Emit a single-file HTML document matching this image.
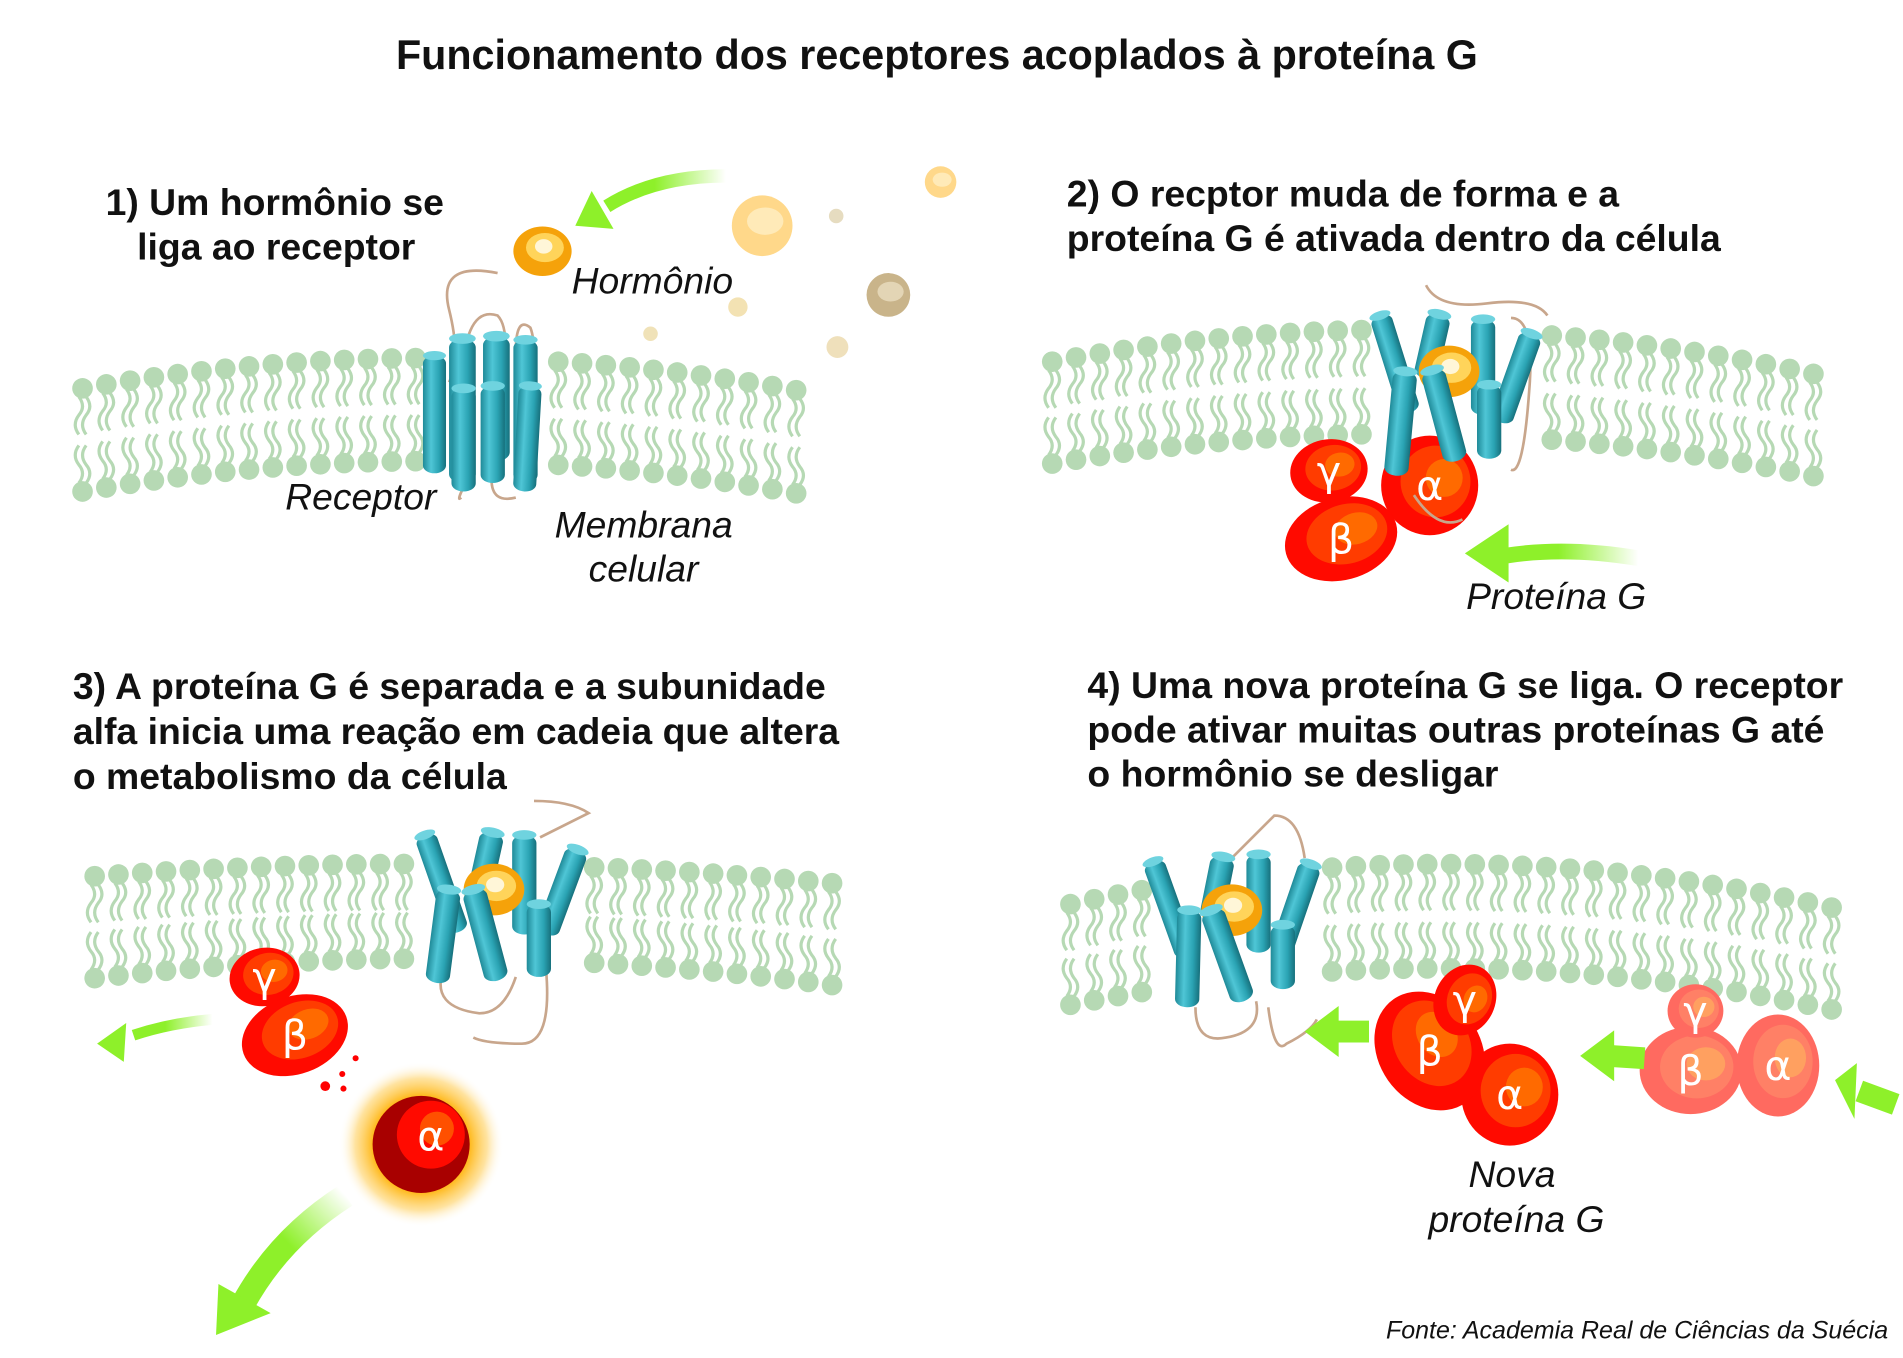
<!DOCTYPE html>
<html><head><meta charset="utf-8">
<style>
html,body{margin:0;padding:0;background:#fff;}
svg{display:block;}
.h{font-family:"Liberation Sans",sans-serif;font-weight:bold;font-size:30.8px;fill:#111;}
.l{font-family:"Liberation Sans",sans-serif;font-style:italic;font-size:30.7px;fill:#111;}
.g{font-family:"DejaVu Sans","Liberation Sans",sans-serif;font-size:34px;fill:#fff;text-anchor:middle;}
</style></head>
<body>
<svg id="s" width="1903" height="1358" viewBox="0 0 1568 1119" preserveAspectRatio="none" xmlns="http://www.w3.org/2000/svg">
<defs>
<linearGradient id="cg" x1="0" x2="1" y1="0" y2="0">
<stop offset="0" stop-color="#1f8a98"/><stop offset="0.35" stop-color="#4fc6d6"/><stop offset="0.7" stop-color="#2aa3b3"/><stop offset="1" stop-color="#17707c"/>
</linearGradient>
<radialGradient id="glow"><stop offset="0.55" stop-color="#ffb000"/><stop offset="0.8" stop-color="#ffd060" stop-opacity="0.6"/><stop offset="1" stop-color="#fff" stop-opacity="0"/></radialGradient>
<linearGradient id="ag1" x1="1" x2="0" y1="0" y2="0"><stop offset="0" stop-color="#8ef02a" stop-opacity="0"/><stop offset="0.6" stop-color="#8ef02a"/></linearGradient>
</defs>
<g id="mem"></g>
<g id="fig"></g>
<text x="772" y="57" text-anchor="middle" style="font-family:'Liberation Sans',sans-serif;font-weight:bold;font-size:34px;fill:#111">Funcionamento dos receptores acoplados à proteína G</text>
<text class="h" x="87" y="177">1) Um hormônio se</text>
<text class="h" x="113" y="214">liga ao receptor</text>
<text class="h" x="879" y="170">2) O recptor muda de forma e a</text>
<text class="h" x="879" y="207">proteína G é ativada dentro da célula</text>
<text class="h" x="60" y="576">3) A proteína G é separada e a subunidade</text>
<text class="h" x="60" y="613">alfa inicia uma reação em cadeia que altera</text>
<text class="h" x="60" y="650">o metabolismo da célula</text>
<text class="h" x="896" y="575">4) Uma nova proteína G se liga. O receptor</text>
<text class="h" x="896" y="612">pode ativar muitas outras proteínas G até</text>
<text class="h" x="896" y="648">o hormônio se desligar</text>
<text class="l" x="471" y="242">Hormônio</text>
<text class="l" x="235" y="420">Receptor</text>
<text class="l" x="457" y="443">Membrana</text>
<text class="l" x="485" y="479">celular</text>
<text class="l" x="1208" y="502">Proteína G</text>
<text class="l" x="1210" y="978">Nova</text>
<text class="l" x="1177" y="1015">proteína G</text>
<text x="1142" y="1103" style="font-family:'Liberation Sans',sans-serif;font-style:italic;font-size:20.6px;fill:#111">Fonte: Academia Real de Ciências da Suécia</text>
</svg>
<script>
var NS="http://www.w3.org/2000/svg";
var mem=document.getElementById('mem'),fig=document.getElementById('fig');
function el(t,a,p){var e=document.createElementNS(NS,t);for(var k in a)e.setAttribute(k,a[k]);(p||fig).appendChild(e);return e;}
function q(a,b,c,t){return a*(1-t)*(1-2*t)+b*4*t*(1-t)+c*t*(2*t-1);}
function membrane(x0,x1,tl,tm,tr,bl,bm,br,ga,gb){
 var step=19.6;
 for(var x=x0;x<=x1+0.1;x+=step){
  if(x>ga&&x<gb)continue;
  var t=(x-x0)/(x1-x0);
  var yt=q(tl,tm,tr,t),yb=q(bl,bm,br,t);
  var c="#b6d9b4";
  [[-3],[3]].forEach(function(o){
   var dx=o[0];
   el('path',{d:'M'+(x+dx)+' '+(yt+7)+' q6 8 0 15 q-6 8 0 16',fill:'none',stroke:c,'stroke-width':2.6},mem);
   el('path',{d:'M'+(x+dx)+' '+(yb-7)+' q6 -8 0 -15 q-6 -8 0 -16',fill:'none',stroke:c,'stroke-width':2.6},mem);
  });
  el('circle',{cx:x,cy:yt,r:8.5,fill:c},mem);
  el('circle',{cx:x,cy:yb,r:8.5,fill:c},mem);
 }
}
membrane(68,675,320,295,325,405,380,410,345,450);
membrane(867,1512,298,272,312,382,358,396,1125,1275);
membrane(78,688,722,712,728,806,790,812,335,482);
membrane(882,1510,745,712,748,828,798,832,942,1090);

function cyl(x1,y1,x2,y2,w){
 var dx=x2-x1,dy=y2-y1,L=Math.sqrt(dx*dx+dy*dy),a=Math.atan2(dy,dx)*180/Math.PI-90;
 var g=el('g',{transform:'translate('+x1+' '+y1+') rotate('+a+')'});
 el('rect',{x:-w/2,y:0,width:w,height:L,rx:w/2,ry:w/3,fill:'url(#cg)'},g);
 el('ellipse',{cx:0,cy:0,rx:w/2,ry:w/5,fill:'#6fd3df'},g);
}
function loop(d){el('path',{d:d,fill:'none',stroke:'#c8a68c','stroke-width':2.2});}
function hormone(x,y,r){el('ellipse',{cx:x,cy:y,rx:r,ry:r*0.85,fill:'#f5a20a'});el('ellipse',{cx:x+2,cy:y-3,rx:r*0.65,ry:r*0.5,fill:'#ffd45a'});el('ellipse',{cx:x+1,cy:y-4,rx:r*0.3,ry:r*0.25,fill:'#fff6d8'});}
function ball(x,y,r,c1,c2){el('circle',{cx:x,cy:y,r:r,fill:c1});el('ellipse',{cx:x+r*0.1,cy:y-r*0.15,rx:r*0.6,ry:r*0.45,fill:c2});}

// panel 1
loop('M410 225 q-50 -10 -40 30 q10 40 0 60');
loop('M380 330 q0 -80 30 -70 q10 10 5 50');
loop('M425 290 q0 -30 12 -20 q8 20 -3 100');
loop('M385 395 q-10 20 -5 15');loop('M405 395 q0 20 20 15');
cyl(433,280,433,398,20);
cyl(358,293,358,390,19);
cyl(381,279,381,398,22);
cyl(409,277,409,380,22);
cyl(382,320,382,405,20);
cyl(406,318,406,398,20);
cyl(437,318,432,405,19);
hormone(447,207,24);
ball(628,186,25,'#ffd88a','#ffeab8');
ball(775,150,13,'#ffd88a','#ffeab8');
ball(732,243,18,'#c9b48a','#e3d5b5');
el('circle',{cx:689,cy:178,r:6,fill:'#e6dcc0'});
el('circle',{cx:608,cy:253,r:8,fill:'#f3e2b3'});
el('circle',{cx:536,cy:275,r:6,fill:'#f0e2b8'});
el('circle',{cx:690,cy:286,r:9,fill:'#efe0bb'});

el('path',{d:'M598 145 Q540 145 500 170',fill:'none',stroke:'url(#ag1)','stroke-width':11});
var g=el('g',{transform:'translate(474 186) rotate(-30)'});el('polygon',{points:'0,0 26,-18 26,18',fill:'#8ef02a'},g);

// panel 2
loop('M1175 235 q10 20 50 15 q40 -5 50 10');
loop('M1245 262 q20 0 15 60 q-5 70 -15 65');
function sub(cx,cy,rx,ry,rot,ch,fade){
 var c=fade?['#ff6a60','#ff8066','#ffa060']:['#ff0a00','#ff3c00','#ff6a00'];
 var g=el('g',{transform:'translate('+cx+' '+cy+') rotate('+rot+')'});
 el('ellipse',{cx:0,cy:0,rx:rx,ry:ry,fill:c[0]},g);
 el('ellipse',{cx:rx*0.12,cy:-ry*0.08,rx:rx*0.72,ry:ry*0.72,fill:c[1]},g);
 el('ellipse',{cx:rx*0.3,cy:-ry*0.15,rx:rx*0.38,ry:ry*0.38,fill:c[2]},g);
 var t=el('text',{x:cx,y:cy+12,'class':'g','font-size':Math.min(rx,ry)*0.95});t.textContent=ch;
}
sub(1178,400,40,41,0,'α');
sub(1095,388,32,26,-8,'γ');
sub(1105,444,47,34,-15,'β');
cyl(1137,260,1162,340,18);
cyl(1186,259,1174,312,20);
cyl(1222,263,1222,342,20);
cyl(1262,275,1236,348,19);
hormone(1194,306,25);
cyl(1158,306,1150,392,20);
cyl(1180,305,1200,380,20);
cyl(1227,317,1227,378,20);
loop('M1165 408 q20 30 40 20');
el('path',{d:'M1350 460 Q1290 450 1240 458',fill:'none',stroke:'url(#ag1)','stroke-width':13});
g=el('g',{transform:'translate(1207 456) rotate(0)'});el('polygon',{points:'0,0 36,-24 36,24',fill:'#8ef02a'},g);

// panel 3
loop('M440 660 q30 0 45 10 q-20 10 -40 20');
loop('M365 800 q-10 30 30 35 q20 0 30 -30');
loop('M450 800 q5 60 -20 60 q-30 0 -40 -5');
cyl(350,688,378,768,18);
cyl(406,686,394,740,20);
cyl(432,688,432,770,20);
cyl(476,700,450,770,19);
hormone(407,733,25);
cyl(370,733,360,810,20);
cyl(390,733,410,808,20);
cyl(444,745,444,805,20);
sub(218,805,29,24,-10,'γ');
sub(243,853,45,32,-20,'β');
el('circle',{cx:268,cy:895,r:4,fill:'#f00'});el('circle',{cx:282,cy:885,r:2.5,fill:'#f00'});el('circle',{cx:283,cy:897,r:2.5,fill:'#f00'});el('circle',{cx:293,cy:872,r:2.5,fill:'#f00'});
el('circle',{cx:347,cy:943,r:68,fill:'url(#glow)'});
el('circle',{cx:347,cy:943,r:40,fill:'#a80000'});
el('circle',{cx:355,cy:935,r:28,fill:'#ff0a00'});
el('circle',{cx:360,cy:930,r:14,fill:'#ff5000'});
var t=el('text',{x:355,y:948,'class':'g','font-size':32});t.textContent='α';
el('path',{d:'M175 840 Q140 843 110 853',fill:'none',stroke:'url(#ag1)','stroke-width':9});
el('polygon',{points:'80,860 104,843 102,875',fill:'#8ef02a'});
var lg=el('linearGradient',{id:'ag2',x1:'1',y1:'0',x2:'0',y2:'1'},document.querySelector('defs'));
el('stop',{offset:'0','stop-color':'#8ef02a','stop-opacity':'0'},lg);el('stop',{offset:'0.5','stop-color':'#8ef02a'},lg);
el('path',{d:'M285 985 Q230 1020 200 1075',fill:'none',stroke:'url(#ag2)','stroke-width':20});
el('polygon',{points:'178,1100 180,1058 223,1082',fill:'#8ef02a'});

// panel 4
loop('M1010 712 q30 -30 40 -40 q20 0 25 35');
loop('M985 830 q0 30 25 25 q30 -5 25 -30');
loop('M1045 830 q5 40 15 30 q20 -10 25 -20');
cyl(950,710,978,788,18);
cyl(1008,706,998,756,20);
cyl(1037,704,1037,785,20);
cyl(1080,712,1056,782,19);
hormone(1015,750,25);
cyl(980,750,978,830,20);
cyl(998,750,1025,825,20);
cyl(1057,762,1057,815,20);
sub(1244,902,40,42,0,'α');
sub(1178,866,42,52,-35,'β');
sub(1207,824,25,30,25,'γ');
sub(1465,878,34,42,0,'α',1);
sub(1393,882,42,36,0,'β',1);
sub(1397,833,23,22,0,'γ',1);
el('path',{d:'M1128 850 L1100 850',stroke:'#8ef02a','stroke-width':18,fill:'none'});
el('polygon',{points:'1075,850 1103,829 1103,871',fill:'#8ef02a'});
el('path',{d:'M1355 872 L1325 870',stroke:'#8ef02a','stroke-width':18,fill:'none'});
el('polygon',{points:'1302,870 1330,849 1330,891',fill:'#8ef02a'});
el('path',{d:'M1562 910 L1532 899',stroke:'#8ef02a','stroke-width':18,fill:'none'});
el('polygon',{points:'1512,890 1530,876 1528,922',fill:'#8ef02a'});
</script>
</body></html>
